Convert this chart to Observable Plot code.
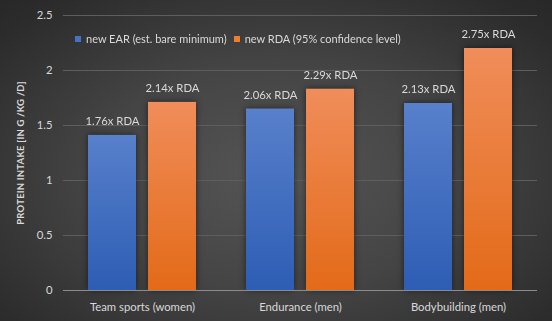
<!DOCTYPE html>
<html><head><meta charset="utf-8">
<script src="https://cdn.jsdelivr.net/npm/d3@7"></script>
<script src="https://cdn.jsdelivr.net/npm/@observablehq/plot@0.6"></script>
<style>
html,body{margin:0;padding:0;background:#2a2a2a;}
#wrap{position:relative;width:552px;height:321px;overflow:hidden;
 background:radial-gradient(ellipse 75% 80% at 50% 55%, #555555 0%, #444444 45%, #2c2c2c 85%, #262626 100%);
 font-family:Lato,"Open Sans",sans-serif;}
#legend{position:absolute;top:32px;left:75px;font-size:11px;color:#d9d9d9;white-space:nowrap;display:flex;align-items:center;}
#legend .sw{display:inline-block;width:6px;height:6px;margin-right:5px;}
#legend .item{display:flex;align-items:center;margin-right:7px;}
#ytitle{position:absolute;left:20px;top:153px;transform:translate(-50%,-50%) rotate(-90deg);font-size:9.5px;font-weight:bold;color:#d9d9d9;white-space:nowrap;letter-spacing:0.2px;}
svg{display:block;}
</style>
</head><body>
<div id="wrap">
<div id="chart"></div>
<div id="legend"></div>
<div id="ytitle"></div>
</div>
<script>
const categories = ["Team sports (women)", "Endurance (men)", "Bodybuilding (men)"];
const seriesNames = ["new EAR (est. bare minimum)", "new RDA (95% confidence level)"];
const earValues = [1.41, 1.65, 1.70];
const rdaValues = [1.71, 1.83, 2.20];
const earLabels = ["1.76x RDA", "2.06x RDA", "2.13x RDA"];
const rdaLabels = ["2.14x RDA", "2.29x RDA", "2.75x RDA"];
const yTicks = [0, 0.5, 1, 1.5, 2, 2.5];
const yTitle = "PROTEIN INTAKE [IN G /KG /D]";
const seriesColors = ["#4472C4", "#ED7D31"];

const rows = [];
categories.forEach((c, i) => {
  rows.push({category: c, series: seriesNames[0], value: earValues[i], label: earLabels[i]});
  rows.push({category: c, series: seriesNames[1], value: rdaValues[i], label: rdaLabels[i]});
});

const chart = Plot.plot({
  width: 552, height: 321,
  marginLeft: 62, marginRight: 14, marginTop: 15, marginBottom: 31,
  style: {background: "transparent", color: "#d9d9d9", fontFamily: "Lato, 'Open Sans', sans-serif", fontSize: "11.3px"},
  fx: {domain: categories, padding: 0, label: null, tickSize: 0, tickPadding: 12},
  x: {domain: seriesNames, paddingInner: 0.2, paddingOuter: 0.41, axis: null},
  y: {domain: [0, 2.5], ticks: yTicks, tickFormat: d => String(d), tickSize: 0, tickPadding: 11, label: null},
  marks: [
    Plot.ruleY(yTicks.filter(t => t > 0), {stroke: "#5e5e5e", strokeWidth: 1}),
    Plot.barY(rows.filter(d => d.series === seriesNames[0]), {fx: "category", x: "series", y: "value", fill: "url(#gradBlue)"}),
    Plot.barY(rows.filter(d => d.series === seriesNames[1]), {fx: "category", x: "series", y: "value", fill: "url(#gradOrange)"}),
    Plot.ruleY([0], {stroke: "#8c8c8c", strokeWidth: 1}),
    Plot.text(rows, {fx: "category", x: "series", y: "value", text: "label", dy: -14, fill: "#d9d9d9", fontSize: 11.3})
  ]
});

const svg = d3.select(chart);
const defs = svg.insert("defs", ":first-child");
const g1 = defs.append("linearGradient").attr("id", "gradBlue").attr("x1", 0).attr("y1", 0).attr("x2", 0).attr("y2", 1);
g1.append("stop").attr("offset", "0%").attr("stop-color", "#5880cb");
g1.append("stop").attr("offset", "100%").attr("stop-color", "#2d5db4");
const g2 = defs.append("linearGradient").attr("id", "gradOrange").attr("x1", 0).attr("y1", 0).attr("x2", 0).attr("y2", 1);
g2.append("stop").attr("offset", "0%").attr("stop-color", "#f08d5a");
g2.append("stop").attr("offset", "100%").attr("stop-color", "#e36a18");
svg.selectAll("g[aria-label='bar']").style("filter", "drop-shadow(0px 0px 3px rgba(0,0,0,0.55))");

document.getElementById("chart").appendChild(chart);

const legend = d3.select("#legend");
seriesNames.forEach((s, i) => {
  const it = legend.append("span").attr("class", "item");
  it.append("span").attr("class", "sw").style("background", seriesColors[i]);
  it.append("span").text(s);
});
document.getElementById("ytitle").textContent = yTitle;
</script>
</body></html>
